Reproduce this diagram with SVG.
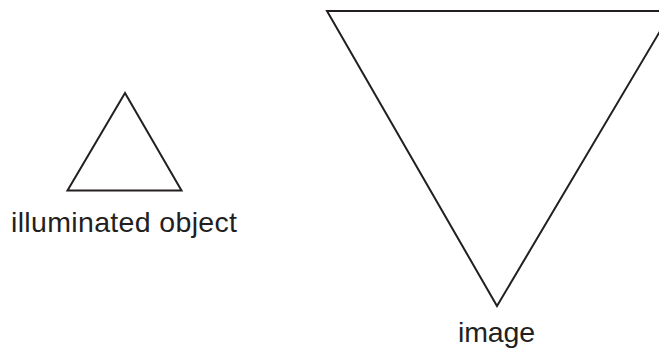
<svg xmlns="http://www.w3.org/2000/svg" width="659" height="354" viewBox="0 0 659 354">
<style>
.tri{fill:none;stroke:#231f20;stroke-width:2;stroke-linejoin:miter}
.lbl{font-family:"Liberation Sans",Arial,sans-serif;font-size:28.5px;fill:#231f20;text-anchor:start}
</style>
<rect width="659" height="354" fill="#fff"/>
<g id="object">
<polygon class="tri" points="125,93 67.5,190.5 181.5,190.5"/>
<text class="lbl" x="11" y="232" textLength="226" lengthAdjust="spacing">illuminated object</text>
</g>
<g id="image">
<polygon class="tri" points="327,11 672,11 497,306"/>
<text class="lbl" x="458" y="342" textLength="77" lengthAdjust="spacing">image</text>
</g>
<g id="connectors"></g>
</svg>
